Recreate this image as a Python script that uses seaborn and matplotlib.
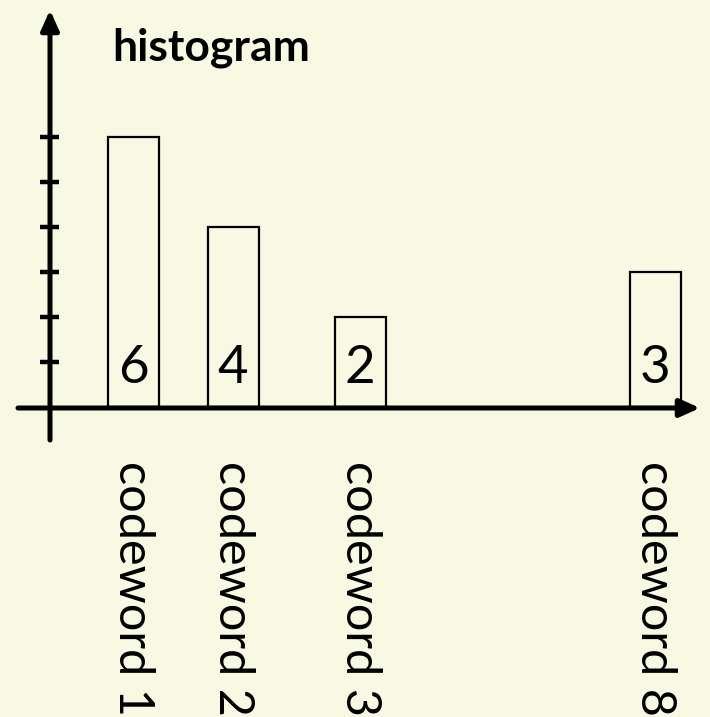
import matplotlib
matplotlib.use("Agg")
import matplotlib.pyplot as plt
import matplotlib.transforms as mtransforms
import seaborn as sns
import pandas as pd

# --- data ---
categories = ["codeword 1", "codeword 2", "codeword 3", "codeword 8"]
counts = [6, 4, 2, 3]
tick_levels = [1, 2, 3, 4, 5, 6]
title = "histogram"

# --- layout (horizontal slot for each bar, axis units of 100 px) ---
slot = [1.33, 2.33, 3.6, 6.55]

BG = "#F8F9E2"
W, H, DPI = 710, 717, 100

sns.set_theme(style="white")
plt.rcParams["font.family"] = ["Lato", "DejaVu Sans"]

fig = plt.figure(figsize=(W / DPI, H / DPI), dpi=DPI, facecolor=BG)
ax = fig.add_axes([0, 0, 1, 1])
ax.set_facecolor(BG)

df = pd.DataFrame({"slot": slot, "count": counts, "label": categories})
sns.barplot(data=df, x="slot", y="count", native_scale=True, width=0.51,
            color=BG, saturation=1, edgecolor="black", linewidth=1.6,
            errorbar=None, ax=ax, zorder=2)

# 45 px per count, baseline 407 px from the top
unit = 45.0
base_from_bottom = H - 407
ax.set_xlim(0, W / 100)
ax.set_ylim(-base_from_bottom / unit, (H - base_from_bottom) / unit)
ax.set_axis_off()

# axes drawn as arrows
arrow = dict(arrowstyle="-|>,head_length=1.0,head_width=0.45", color="black",
             lw=3.6, shrinkA=0, shrinkB=0)
ax.annotate("", xy=(50 / W, 1 - 10 / H), xytext=(50 / W, 1 - 440 / H),
            xycoords="axes fraction", textcoords="axes fraction",
            arrowprops=arrow, zorder=3)
ax.annotate("", xy=(700 / W, 1 - 408 / H), xytext=(18 / W, 1 - 408 / H),
            xycoords="axes fraction", textcoords="axes fraction",
            arrowprops=arrow, zorder=3)

# tick marks on the vertical axis
blend = mtransforms.blended_transform_factory(ax.transAxes, ax.transData)
ax.hlines(tick_levels, 40 / W, 59 / W, transform=blend, colors="black",
          lw=3.2, zorder=3)

# value labels inside the bars and rotated category labels below the axis
for x, c, lab in zip(slot, counts, categories):
    ax.annotate(str(c), xy=(x, 0), xytext=(0, 28), textcoords="offset points",
                ha="center", va="center", fontsize=38, color="black", zorder=4)
    ax.annotate(lab, xy=(x, 0), xytext=(0, -39), textcoords="offset points",
                ha="center", va="top", rotation=270, fontsize=35,
                color="black", zorder=4)

fig.text(112 / W, 1 - 60 / H, title, ha="left", va="baseline",
         fontsize=32, fontweight="bold", color="black")

fig.savefig("out.png", dpi=DPI, facecolor=BG)
